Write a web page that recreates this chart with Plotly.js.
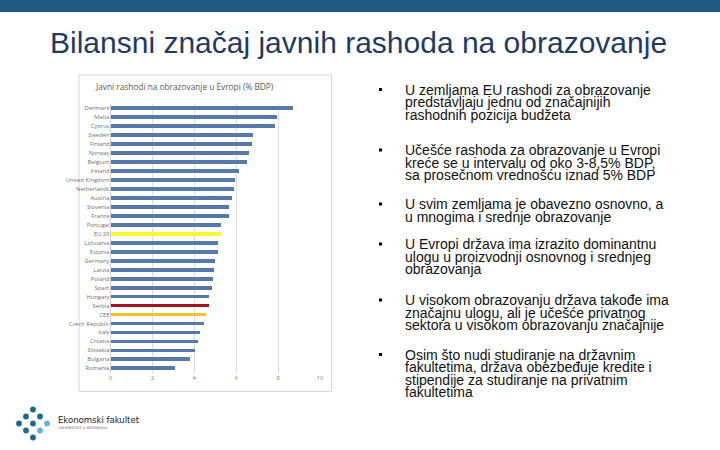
<!DOCTYPE html>
<html>
<head>
<meta charset="utf-8">
<script src="https://cdn.plot.ly/plotly-3.0.1.min.js"></script>
<style>html,body{margin:0;padding:0;background:#fff;}#chart{width:720px;height:450px;}</style>
</head>
<body>
<div id="chart"></div>
<script>
// ---- data ----
const countries = ["Denmark","Malta","Cyprus","Sweden","Finland","Norway","Belgium","Ireland","United Kingdom","Netherlands","Austria","Slovenia","France","Portugal","EU 28","Lithuania","Estonia","Germany","Latvia","Poland","Spain","Hungary","Serbia","CEE","Czech Republic","Italy","Croatia","Slovakia","Bulgaria","Romania"];
const spending = [8.7,7.94,7.86,6.78,6.76,6.62,6.5,6.12,5.95,5.91,5.8,5.66,5.66,5.28,5.26,5.12,5.12,4.99,4.94,4.91,4.83,4.7,4.7,4.56,4.48,4.29,4.16,4.03,3.79,3.08];
const xTicks = [0,2,4,6,8,10];
const slideTitle = "Bilansni značaj javnih rashoda na obrazovanje";
const chartTitle = "Javni rashodi na obrazovanje u Evropi (% BDP)";
const bullets = [
  ["U zemljama EU rashodi za obrazovanje","predstavljaju jednu od značajnijih","rashodnih pozicija budžeta"],
  ["Učešće rashoda za obrazovanje u Evropi","kreće se u intervalu od oko 3-8,5% BDP,","sa prosečnom vrednošću iznad 5% BDP"],
  ["U svim zemljama je obavezno osnovno, a","u mnogima i srednje obrazovanje"],
  ["U Evropi država ima izrazito dominantnu","ulogu u proizvodnji osnovnog i srednjeg","obrazovanja"],
  ["U visokom obrazovanju država takođe ima","značajnu ulogu, ali je učešće privatnog","sektora u visokom obrazovanju značajnije"],
  ["Osim što nudi studiranje na državnim","fakultetima, država obezbeđuje kredite i","stipendije za studiranje na privatnim","fakultetima"]
];
const logoName = "Ekonomski fakultet";
const logoSub = "UNIVERZITET U BEOGRADU";

// ---- styling helpers ----
const W = 720, H = 450;
const px = x => x / W;
const py = y => 1 - y / H;
const highlight = {"EU 28": "#fbf534", "Serbia": "#a3121c", "CEE": "#f1c232"};
const barColors = countries.map(c => highlight[c] || "#5479aa");

const trace = {
  type: "bar",
  orientation: "h",
  x: spending,
  y: countries,
  width: 0.42,
  marker: {color: barColors},
  hoverinfo: "x+y"
};

const shapes = [
  {type: "rect", xref: "paper", yref: "paper", x0: 0, x1: 1, y0: py(12), y1: 1, fillcolor: "#215a82", line: {width: 0}, layer: "below"},
  {type: "rect", xref: "paper", yref: "paper", x0: px(79), x1: px(331.5), y0: py(391.5), y1: py(75), fillcolor: "rgba(0,0,0,0)", line: {color: "#d9d9d9", width: 1}, layer: "below"}
];

const annotations = [
  {xref: "paper", yref: "paper", x: px(358.5), y: py(42), text: slideTitle, showarrow: false, xanchor: "center", yanchor: "middle",
   font: {family: "Liberation Sans, Arial, sans-serif", size: 30, color: "#1f3b63"}},
  {xref: "paper", yref: "paper", x: px(184), y: py(86), text: chartTitle, showarrow: false, xanchor: "center", yanchor: "middle",
   font: {family: "Open Sans, Liberation Sans, sans-serif", size: 8.3, color: "#595959"}}
];

// bullet text, one annotation per line
const bulletStarts = [89.5, 150, 204, 244, 300, 354.5];
const lineGap = 12.6;
bullets.forEach((lines, i) => {
  const y0 = bulletStarts[i];
  shapes.push({type: "rect", xref: "paper", yref: "paper", x0: px(379), x1: px(382), y0: py(y0 + 1.5), y1: py(y0 - 1.5), fillcolor: "#000", line: {width: 0}});
  lines.forEach((t, j) => {
    annotations.push({xref: "paper", yref: "paper", x: px(402.5), y: py(y0 + j * lineGap), text: t, showarrow: false,
      xanchor: "left", yanchor: "middle", font: {family: "Liberation Sans, Arial, sans-serif", size: 14, color: "#111"}});
  });
});

// logo
const dotsDark = [[33,409.5],[26,416.5],[19,423.5],[33,423.5],[26,430.5],[33,437.5],[40,416.5]];
const dotsLight = [[47,423.5],[40,430.5]];
const r = 2.9;
dotsDark.forEach(([x, y]) => shapes.push({type: "circle", xref: "paper", yref: "paper", x0: px(x - r), x1: px(x + r), y0: py(y + r), y1: py(y - r), fillcolor: "#1b6a8c", line: {width: 0}}));
dotsLight.forEach(([x, y]) => shapes.push({type: "circle", xref: "paper", yref: "paper", x0: px(x - r), x1: px(x + r), y0: py(y + r), y1: py(y - r), fillcolor: "#5bb7db", line: {width: 0}}));
annotations.push({xref: "paper", yref: "paper", x: px(56), y: py(420), text: logoName, showarrow: false, xanchor: "left", yanchor: "middle",
  font: {family: "DejaVu Sans, sans-serif", size: 8.5, color: "#222"}});
annotations.push({xref: "paper", yref: "paper", x: px(56), y: py(428), text: logoSub, showarrow: false, xanchor: "left", yanchor: "middle",
  font: {family: "DejaVu Sans, sans-serif", size: 3.6, color: "#666"}});

const layout = {
  width: W, height: H,
  margin: {l: 0, r: 0, t: 0, b: 0},
  paper_bgcolor: "#ffffff", plot_bgcolor: "rgba(0,0,0,0)",
  showlegend: false,
  bargap: 0,
  xaxis: {domain: [px(110.5), px(320)], range: [0, 10], tickmode: "array", tickvals: xTicks, ticktext: xTicks.map(String),
    showgrid: true, gridcolor: "#dcdcdc", gridwidth: 1, zeroline: true, zerolinecolor: "#d0d0d0", zerolinewidth: 1,
    showline: false, ticks: "", ticklen: 0, tickfont: {family: "Open Sans, sans-serif", size: 6, color: "#7f7f7f"}, fixedrange: true},
  yaxis: {domain: [py(372.8), py(103.8)], autorange: "reversed", type: "category", tickmode: "array", tickvals: countries,
    showgrid: false, zeroline: false, showline: false, ticks: "", ticklen: 0,
    tickfont: {family: "Open Sans, sans-serif", size: 5.8, color: "#6f6f6f"}, fixedrange: true},
  shapes: shapes,
  annotations: annotations
};

Plotly.newPlot("chart", [trace], layout, {displayModeBar: false, staticPlot: true});
</script>
</body>
</html>
